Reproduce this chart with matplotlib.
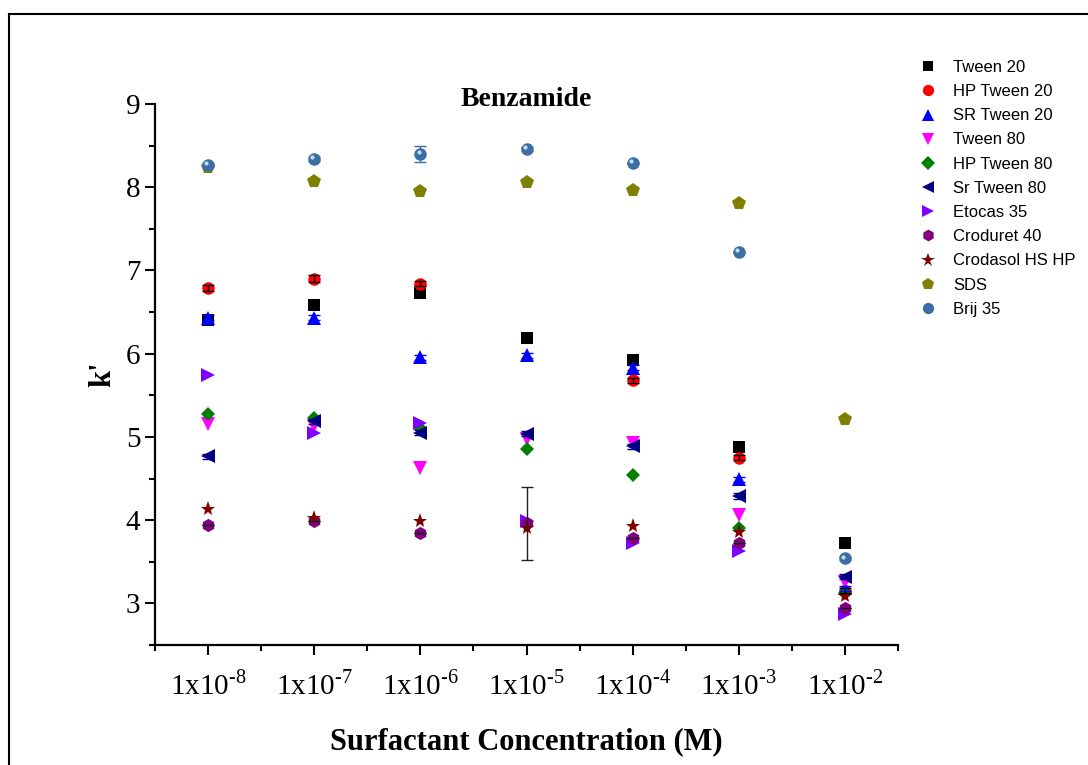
import matplotlib
matplotlib.use("Agg")
import matplotlib.pyplot as plt
import numpy as np
from matplotlib.ticker import MultipleLocator
from matplotlib.transforms import offset_copy
from matplotlib.lines import Line2D

nan = np.nan

# concentrations (M), plotted on evenly spaced positions
conc_exp = [-8, -7, -6, -5, -4, -3, -2]
xpos = np.arange(1, len(conc_exp) + 1)

names = ["Tween 20", "HP Tween 20", "SR Tween 20", "Tween 80", "HP Tween 80",
         "Sr Tween 80", "Etocas 35", "Croduret 40", "Crodasol HS HP", "SDS", "Brij 35"]

tween20     = [6.41, 6.59, 6.73, 6.19, 5.93, 4.88, 3.72]
hp_tween20  = [6.79, 6.90, 6.84, nan, 5.68, 4.75, 3.15]
sr_tween20  = [6.43, 6.43, 5.96, 5.98, 5.83, 4.49, 3.18]
tween80     = [5.15, 5.13, 4.63, 4.97, 4.93, 4.06, 3.26]
hp_tween80  = [5.27, 5.23, 5.11, 4.86, 4.54, 3.91, 3.12]
sr_tween80  = [4.77, 5.19, 5.05, 5.04, 4.89, 4.29, 3.32]
etocas35    = [5.74, 5.05, 5.17, 3.99, 3.73, 3.63, 2.87]
croduret40  = [3.94, 3.99, 3.84, 3.96, 3.79, 3.73, 2.94]
crodasol    = [4.13, 4.03, 3.99, 3.91, 3.93, 3.86, 3.09]
sds         = [8.24, 8.08, 7.96, 8.06, 7.97, 7.81, 5.22]
brij35      = [8.27, 8.34, 8.40, 8.46, 8.29, 7.22, 3.54]

# standard deviations
err_hp_tween20 = [0.04, 0.04, 0.03, 0.0, 0.03, 0.03, 0.03]
err_sr_tween20 = [0.03, 0.03, 0.03, 0.03, 0.03, 0.03, 0.03]
err_sr_tween80 = [0.03, 0.03, 0.03, 0.03, 0.03, 0.04, 0.03]
err_croduret   = [0.0, 0.0, 0.0, 0.44, 0.0, 0.0, 0.0]
err_brij35     = [0.02, 0.02, 0.10, 0.02, 0.0, 0.0, 0.02]

series = [tween20, hp_tween20, sr_tween20, tween80, hp_tween80, sr_tween80,
          etocas35, croduret40, crodasol, sds, brij35]
errors = [None, err_hp_tween20, err_sr_tween20, None, None, err_sr_tween80,
          None, err_croduret, None, None, err_brij35]
markers = ['s', 'o', '^', 'v', 'D', '<', '>', 'h', '*', 'p', 'o']
colors = ['#000000', '#ff0000', '#0000ff', '#ff00ff', '#008000', '#000080',
          '#8000ff', '#800080', '#800000', '#808000', '#3a6ea5']
ecolors = ['#000000', '#000000', '#0000ff', '#ff00ff', '#008000', '#000080',
           '#8000ff', '#202020', '#800000', '#808000', '#3a6ea5']
sizes = [8.5, 9, 9.5, 9.5, 7.5, 9.5, 9.5, 9.5, 11, 10, 9]

plt.rcParams['font.family'] = 'Liberation Serif'

fig = plt.figure(figsize=(10.88, 7.65), dpi=100)
ax = fig.add_axes([155/1088, 1-645/765, (898-155)/1088, (645-104)/765])

for ys, err, m, c, ec, s in zip(series, errors, markers, colors, ecolors, sizes):
    ax.plot(xpos, ys, linestyle='none', marker=m, color=c, markersize=s,
            markeredgewidth=0, zorder=3)
    if err is not None:
        ax.errorbar(xpos, ys, yerr=err, fmt='none', ecolor=ec, elinewidth=1.0,
                    capsize=4, capthick=1.0, zorder=4)

# little shine on the Brij 35 spheres
shine = offset_copy(ax.transData, fig=fig, x=-1.3, y=1.3, units='points')
ax.plot(xpos, brij35, linestyle='none', marker='o', markersize=3,
        color='#c8dcf0', markeredgewidth=0, transform=shine, zorder=5)

ax.set_xlim(0.5, 7.5)
ax.set_ylim(2.5, 9)
ax.set_xticks(xpos)
ax.set_xticklabels(['1x10$^{\\mathregular{\u2010%d}}$' % (-e) for e in conc_exp], fontsize=21)
ax.xaxis.set_minor_locator(MultipleLocator(0.5))
ax.yaxis.set_major_locator(MultipleLocator(1))
ax.yaxis.set_minor_locator(MultipleLocator(0.5))
ax.tick_params(axis='y', labelsize=21)
ax.tick_params(which='major', direction='out', length=7, width=1.5)
ax.tick_params(which='minor', direction='out', length=4, width=1.5)
ax.tick_params(axis='x', which='major', pad=11)

for side in ['top', 'right']:
    ax.spines[side].set_visible(False)
for side in ['left', 'bottom']:
    ax.spines[side].set_linewidth(1.6)

ax.set_xlabel('Surfactant Concentration (M)', fontsize=22, fontweight='bold', labelpad=20)
ax.set_ylabel("k'", fontsize=22, fontweight='bold', labelpad=6)
ax.text(0.5, 1.008, 'Benzamide', transform=ax.transAxes, ha='center', va='center',
        fontsize=20, fontweight='bold')

handles = [Line2D([], [], linestyle='none', marker=m, color=c, markersize=s * 0.9,
                  markeredgewidth=0) for m, c, s in zip(markers, colors, sizes)]
fig.legend(handles, names, loc='upper left', bbox_to_anchor=(920/1088, 1-60/765),
           frameon=False, prop={'family': 'Liberation Sans', 'size': 12},
           handlelength=1.0, handletextpad=1.0, labelspacing=0.55,
           borderpad=0, borderaxespad=0)

# frame around the whole figure
fig.add_artist(Line2D([9/1088, 9/1088], [0, 1-14/765], color='black', lw=1.5,
                      transform=fig.transFigure))
fig.add_artist(Line2D([9/1088, 1], [1-14/765, 1-14/765], color='black', lw=1.5,
                      transform=fig.transFigure))

fig.savefig('out.png', dpi=100)
